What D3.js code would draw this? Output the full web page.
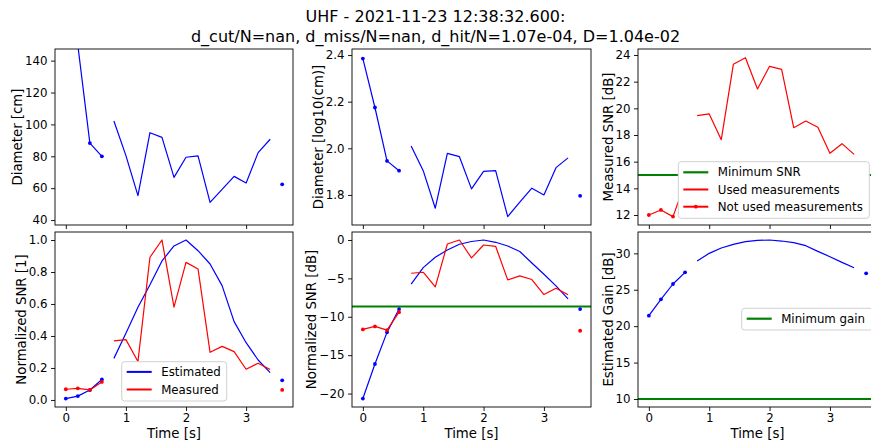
<!DOCTYPE html>
<html><head><meta charset="utf-8">
<script src="https://cdn.jsdelivr.net/npm/d3@7"></script>
<style>
body{margin:0;background:#fff;overflow:hidden}
svg{display:block;font-family:"DejaVu Sans",sans-serif}
</style>
</head><body>
<svg id="chart" width="871" height="443"></svg>
<script>
// ---------- data ----------
const titleLines = ["UHF - 2021-11-23 12:38:32.600:",
  "d_cut/N=nan, d_miss/N=nan, d_hit/N=1.07e-04, D=1.04e-02"];
const time = [0,0.2,0.4,0.6,0.8,1.0,1.2,1.4,1.6,1.8,2.0,2.2,2.4,2.6,2.8,3.0,3.2,3.4,3.6];
const used = [false,false,false,false,true,true,true,true,true,true,true,true,true,true,true,true,true,true,false];
const diameterCm = [242.7,149.6,88.3,80.0,102.1,80.4,55.3,94.8,91.9,66.8,79.4,80.2,51.1,59.3,67.4,63.2,82.3,90.7,62.4];
const diameterLog = [2.385,2.175,1.946,1.904,2.010,1.904,1.743,1.978,1.964,1.826,1.901,1.904,1.707,1.769,1.829,1.800,1.917,1.959,1.796];
const measuredSnrDb = [12.0,12.38,11.88,14.4,19.45,19.58,17.65,23.3,23.8,21.45,23.15,22.92,18.55,19.05,18.58,16.63,17.35,16.55,11.9];
const estNormSnr = [0.0086,0.024,0.062,0.128,0.26,0.417,0.58,0.72,0.869,0.963,1.0,0.933,0.85,0.715,0.49,0.358,0.25,0.171,0.123];
const measNormSnr = [0.067,0.073,0.0625,0.1125,0.369,0.377,0.24,0.892,1.0,0.58,0.86,0.819,0.298,0.335,0.302,0.192,0.23,0.19,0.0625];
const estNormSnrDb = [-20.65,-16.15,-12.03,-9.0,-5.76,-3.6,-2.25,-1.3,-0.56,-0.2,0,-0.3,-0.78,-1.5,-3.0,-4.46,-5.97,-7.66,-9.0];
const measNormSnrDb = [-11.65,-11.26,-11.73,-9.4,-4.33,-4.2,-6.1,-0.52,0,-2.34,-0.65,-0.82,-5.2,-4.68,-5.15,-7.1,-6.28,-7.14,-11.82];
const estGainDb = [21.44,23.68,25.79,27.39,28.95,30.0,30.73,31.24,31.6,31.78,31.83,31.69,31.46,31.05,30.27,29.54,28.76,28.03,27.25];
const minSnrDb = 15;
const minNormSnrDb = -8.66;
const minGainDb = 10;
const timeTicks = [0,1,2,3];
const timeLimits = [-0.18,3.78];

// ---------- layout ----------
const svg = d3.select("#chart");
const cols = [[55,293],[352,591],[638,877]];
const rows = [[49,225],[232,407]];
const BLUE="#0000ff", RED="#ff0000", GREEN="#008000";
const TICKFS = 11.8, LABELFS = 13.3;

svg.append("g").selectAll("text").data(titleLines).join("text")
  .attr("x",435.5).attr("y",(d,i)=>22+i*19.5)
  .attr("text-anchor","middle").attr("font-size",16).attr("fill","#000").text(d=>d);

// segments: contiguous runs of used/not-used
function segments(){
  const segs=[]; let cur=null;
  used.forEach((u,i)=>{
    if(!cur || cur.used!==u){cur={used:u,idx:[]};segs.push(cur);}
    cur.idx.push(i);
  });
  return segs;
}
const segs = segments();

let clipId=0;
function panel(opt){
  const [x0,x1]=cols[opt.col], [y0,y1]=rows[opt.row];
  const x=d3.scaleLinear().domain(timeLimits).range([x0,x1]);
  const y=d3.scaleLinear().domain(opt.ylim).range([y1,y0]);
  const g=svg.append("g");
  const cid="clip"+(clipId++);
  g.append("clipPath").attr("id",cid).append("rect")
    .attr("x",x0).attr("y",y0).attr("width",x1-x0).attr("height",y1-y0);
  const plot=g.append("g").attr("clip-path",`url(#${cid})`);

  (opt.hlines||[]).forEach(h=>{
    plot.append("line").attr("x1",x0).attr("x2",x1).attr("y1",y(h)).attr("y2",y(h))
      .attr("stroke",GREEN).attr("stroke-width",2.2);
  });
  opt.series.forEach(s=>{
    const line=d3.line().x(i=>x(time[i])).y(i=>y(s.values[i]));
    segs.forEach(seg=>{
      if(seg.idx.length>1){
        plot.append("path").attr("d",line(seg.idx)).attr("fill","none")
          .attr("stroke",s.color).attr("stroke-width",1.2).attr("stroke-linejoin","round");
      }
      if(!seg.used){
        plot.append("g").selectAll("circle").data(seg.idx).join("circle")
          .attr("cx",i=>x(time[i])).attr("cy",i=>y(s.values[i])).attr("r",1.9).attr("fill",s.color);
      }
    });
  });
  const xa=g.append("g").attr("transform",`translate(0,${y1})`)
    .call(d3.axisBottom(x).tickValues(timeTicks).tickSize(4).tickPadding(2.5).tickFormat(opt.row===1?d3.format("d"):()=>""));
  const ya=g.append("g").attr("transform",`translate(${x0},0)`)
    .call(d3.axisLeft(y).tickValues(opt.yticks).tickSize(4).tickPadding(3.5).tickFormat(d3.format(opt.fmt)));
  [xa,ya].forEach(a=>{
    a.select(".domain").remove();
    a.selectAll("line").attr("stroke","#000").attr("stroke-width",0.9);
    a.selectAll("text").attr("font-size",TICKFS).attr("font-family","DejaVu Sans").attr("fill","#000");
  });
  g.append("rect").attr("x",x0).attr("y",y0).attr("width",x1-x0).attr("height",y1-y0)
    .attr("fill","none").attr("stroke","#000").attr("stroke-width",0.9);
  const lx=x0-opt.ylabelOff, ly=(y0+y1)/2;
  g.append("text").attr("transform",`translate(${lx},${ly}) rotate(-90)`)
    .attr("text-anchor","middle").attr("dominant-baseline","central")
    .attr("font-size",LABELFS).attr("fill","#000").text(opt.ylabel);
  if(opt.row===1){
    g.append("text").attr("x",(x0+x1)/2).attr("y",437.5).attr("text-anchor","middle")
      .attr("font-size",LABELFS).attr("fill","#000").text("Time [s]");
  }
  if(opt.legend){
    const L=opt.legend;
    const lg=g.append("g");
    lg.append("rect").attr("x",L.x).attr("y",L.y).attr("width",L.w).attr("height",L.h)
      .attr("rx",3).attr("fill","#fff").attr("stroke","#d0d0d0").attr("stroke-width",1);
    L.items.forEach((it,k)=>{
      const cy=L.y+L.first+k*L.step;
      lg.append("line").attr("x1",L.x+5).attr("x2",L.x+30).attr("y1",cy).attr("y2",cy)
        .attr("stroke",it.color).attr("stroke-width",it.width||2);
      if(it.marker) lg.append("circle").attr("cx",L.x+17.5).attr("cy",cy).attr("r",1.9).attr("fill",it.color);
      lg.append("text").attr("x",L.x+39.5).attr("y",cy).attr("dominant-baseline","central")
        .attr("font-size",TICKFS).attr("fill","#000").text(it.label);
    });
  }
}

panel({col:0,row:0,ylim:[36.9,147.3],yticks:[40,60,80,100,120,140],fmt:"d",
  ylabel:"Diameter [cm]",ylabelOff:37.5,series:[{values:diameterCm,color:BLUE}]});
panel({col:1,row:0,ylim:[1.671,2.426],yticks:[1.8,2.0,2.2,2.4],fmt:".1f",
  ylabel:"Diameter [log10(cm)]",ylabelOff:34,series:[{values:diameterLog,color:BLUE}]});
panel({col:2,row:0,ylim:[11.25,24.45],yticks:[12,14,16,18,20,22,24],fmt:"d",
  ylabel:"Measured SNR [dB]",ylabelOff:30,hlines:[minSnrDb],series:[{values:measuredSnrDb,color:RED}],
  legend:{x:678.3,y:161.7,w:191,h:56.6,first:10.6,step:17.2,items:[
    {label:"Minimum SNR",color:GREEN,width:2.2},
    {label:"Used measurements",color:RED},
    {label:"Not used measurements",color:RED,marker:true}]}});
panel({col:0,row:1,ylim:[-0.044,1.05],yticks:[0,0.2,0.4,0.6,0.8,1.0],fmt:".1f",
  ylabel:"Normalized SNR [1]",ylabelOff:34,
  series:[{values:estNormSnr,color:BLUE},{values:measNormSnr,color:RED}],
  legend:{x:121.7,y:361.7,w:105,h:39.3,first:10.2,step:17.6,items:[
    {label:"Estimated",color:BLUE},{label:"Measured",color:RED}]}});
panel({col:1,row:1,ylim:[-21.75,1.04],yticks:[0,-5,-10,-15,-20],fmt:"d",
  ylabel:"Normalized SNR [dB]",ylabelOff:41,hlines:[minNormSnrDb],
  series:[{values:estNormSnrDb,color:BLUE},{values:measNormSnrDb,color:RED}]});
panel({col:2,row:1,ylim:[8.9,32.93],yticks:[10,15,20,25,30],fmt:"d",
  ylabel:"Estimated Gain [dB]",ylabelOff:30,hlines:[minGainDb],
  series:[{values:estGainDb,color:BLUE}],
  legend:{x:741.7,y:308.3,w:131,h:21.7,first:10.4,step:17,items:[
    {label:"Minimum gain",color:GREEN,width:2.2}]}});
</script>
</body></html>
